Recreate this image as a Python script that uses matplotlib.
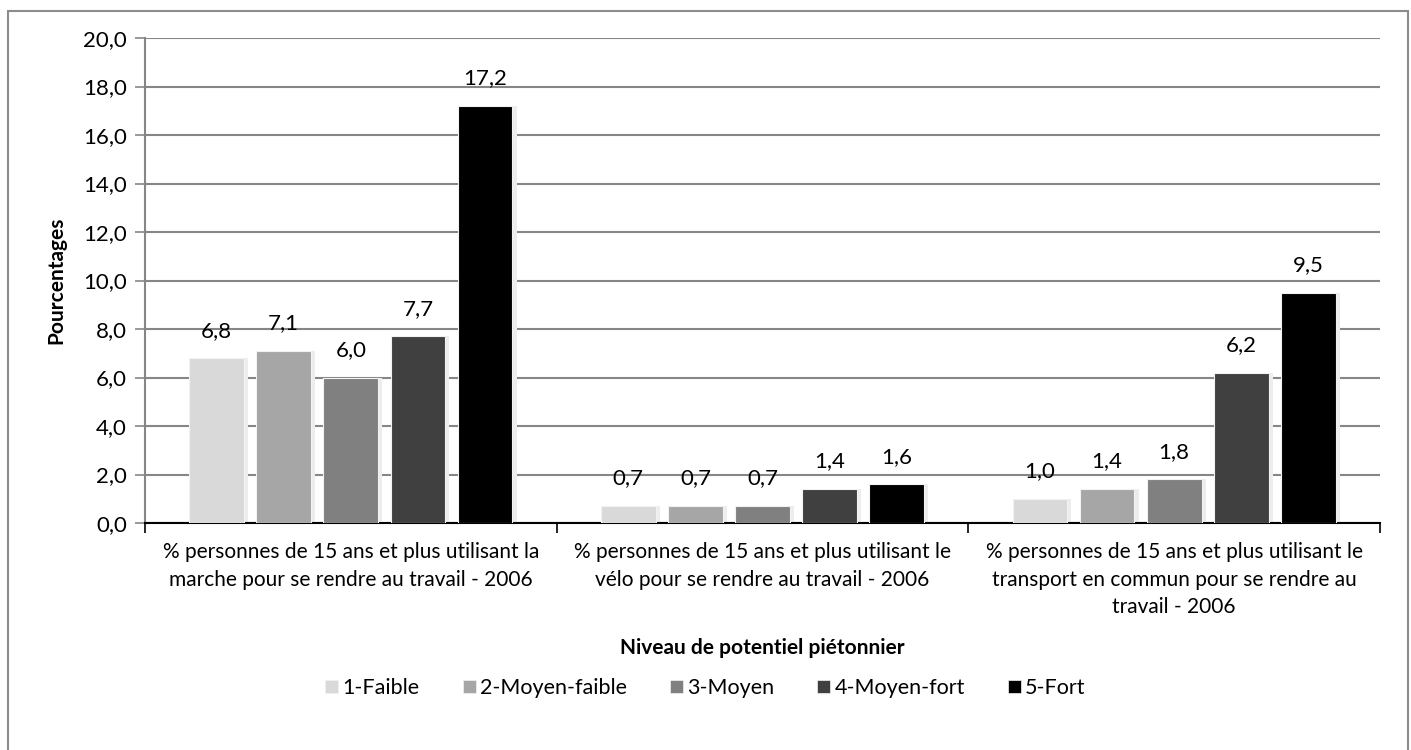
import matplotlib
matplotlib.use("Agg")
import matplotlib.pyplot as plt
import numpy as np
from matplotlib.patches import Rectangle, Patch

plt.rcParams['font.family'] = ['Lato', 'DejaVu Sans']

categories = [
    "% personnes de 15 ans et plus utilisant la\nmarche pour se rendre au travail - 2006",
    "% personnes de 15 ans et plus utilisant le\nvélo pour se rendre au travail - 2006",
    "% personnes de 15 ans et plus utilisant le\ntransport en commun pour se rendre au\ntravail - 2006",
]
series_names = ["1-Faible", "2-Moyen-faible", "3-Moyen", "4-Moyen-fort", "5-Fort"]
faible = [6.8, 0.7, 1.0]
moyen_faible = [7.1, 0.7, 1.4]
moyen = [6.0, 0.7, 1.8]
moyen_fort = [7.7, 1.4, 6.2]
fort = [17.2, 1.6, 9.5]
series_values = [faible, moyen_faible, moyen, moyen_fort, fort]
colors = ["#D9D9D9", "#A6A6A6", "#808080", "#404040", "#000000"]
yticks = [0, 2, 4, 6, 8, 10, 12, 14, 16, 18, 20]

W, H = 1411, 750
fig = plt.figure(figsize=(W / 100, H / 100), dpi=100)
fig.patches.append(Rectangle((8 / W, -0.05), 1400 / W, 1.05 - 11 / H, transform=fig.transFigure,
                             fill=False, edgecolor="#8C8C8C", linewidth=1.5, zorder=0))

ax = fig.add_axes([145 / W, 1 - 523 / H, (1380 - 145) / W, (523 - 38) / H])

n = len(series_names)
step = 0.163
width = 0.133
x = np.arange(len(categories))
for i, (name, vals, c) in enumerate(zip(series_names, series_values, colors)):
    pos = x + (i - (n - 1) / 2) * step
    ax.bar(pos + 0.005, vals, width=width + 0.01, color="#EDEDED", zorder=2, linewidth=0)
    bars = ax.bar(pos, vals, width=width, color=c, edgecolor="#F2F2F2", linewidth=0.8,
                  zorder=3, label=name)
    for b, v in zip(bars, vals):
        ax.text(b.get_x() + b.get_width() / 2, v + 0.72, f"{v:.1f}".replace(".", ","),
                ha="center", va="bottom", fontsize=16, color="#000000", zorder=4)

ax.set_xlim(-0.5, len(categories) - 0.5)
ax.set_ylim(0, 20)
ax.set_yticks(yticks)
ax.set_yticklabels([f"{t:.1f}".replace(".", ",") for t in yticks], fontsize=16)
ax.yaxis.grid(True, color="#868686", linewidth=1.5, zorder=0)
ax.set_axisbelow(True)

ax.set_xticks(x)
ax.set_xticklabels(categories, fontsize=15, linespacing=1.45, va="top")
ax.tick_params(axis="x", length=0, pad=14)
ax.set_xticks([-0.5, 0.5, 1.5, 2.5], minor=True)
ax.tick_params(axis="x", which="minor", length=7, width=1.2, color="#000000", direction="out")
ax.tick_params(axis="y", length=7, width=1.2, color="#868686", pad=6)

for s in ["top", "right"]:
    ax.spines[s].set_visible(False)
ax.spines["left"].set_color("#868686")
ax.spines["left"].set_linewidth(1.5)
ax.spines["bottom"].set_color("#000000")
ax.spines["bottom"].set_linewidth(1.5)

ax.set_ylabel("Pourcentages", fontsize=15, fontweight="bold", labelpad=12)
fig.text((145 + 1380) / 2 / W, 1 - 648 / H, "Niveau de potentiel piétonnier",
         ha="center", va="center", fontsize=15, fontweight="bold")

handles = [Patch(facecolor=c, edgecolor="#F2F2F2", linewidth=0.5) for c in colors]
fig.legend(handles, series_names, loc="center", bbox_to_anchor=(0.5, 1 - 688 / H),
           ncol=5, frameon=False, fontsize=15.5, handlelength=0.6, handleheight=0.6,
           handletextpad=0.2, columnspacing=2.0)

fig.savefig("out.png", dpi=100)
